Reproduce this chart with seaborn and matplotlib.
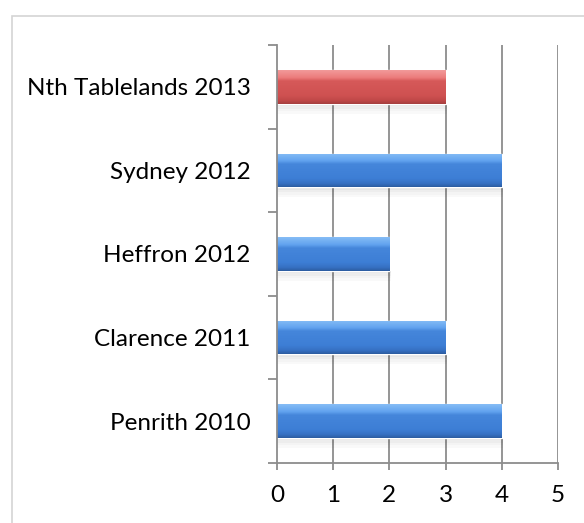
import numpy as np
import matplotlib
matplotlib.use("Agg")
import matplotlib.pyplot as plt
from matplotlib.patches import Rectangle
from matplotlib.colors import LinearSegmentedColormap
import seaborn as sns

# data, top to bottom as shown
categories = ["Nth Tablelands 2013", "Sydney 2012", "Heffron 2012", "Clarence 2011", "Penrith 2010"]
values = [3, 4, 2, 3, 4]
groups = ["red", "blue", "blue", "blue", "blue"]
x_ticks = [0, 1, 2, 3, 4, 5]

sns.set_theme(style="white")
plt.rcParams['font.family'] = ['Lato', 'DejaVu Sans']

fig = plt.figure(figsize=(5.84, 5.23), dpi=100)
ax = fig.add_axes([277 / 584, 60 / 523, 281 / 584, 418 / 523])

base = {"red": "#cf5252", "blue": "#3c7dd4"}
ramps = {
    "red": [(0.0, "#f29a9a"), (0.22, "#ec7c7c"), (0.32, "#d65959"),
            (0.75, "#cf5151"), (0.9, "#c04848"), (1.0, "#a53f3f")],
    "blue": [(0.0, "#86bdf6"), (0.22, "#62a3ef"), (0.32, "#4586db"),
             (0.75, "#3d7ed5"), (0.9, "#3670c2"), (1.0, "#2c5c9f")],
}

sns.barplot(x=values, y=categories, hue=groups, palette=base, orient="h",
            width=0.4, dodge=False, legend=False, ax=ax, saturation=1)

# cylinder-like shading on each bar
for patch, g in zip(ax.patches, groups):
    x0, y0 = patch.get_x(), patch.get_y()
    w, h = patch.get_width(), patch.get_height()
    if w == 0:
        continue
    # soft shadow below the bar
    for k, a in enumerate([0.10, 0.07, 0.045, 0.025]):
        ax.add_patch(Rectangle((x0, y0 + h + k * 0.03), w + 0.02, 0.03,
                               facecolor="black", alpha=a, lw=0, zorder=1.5))
    cmap = LinearSegmentedColormap.from_list("r", ramps[g])
    grad = np.linspace(0, 1, 128).reshape(-1, 1)
    im = ax.imshow(grad, cmap=cmap, aspect="auto", origin="upper",
                   extent=(x0, x0 + w, y0 + h, y0), zorder=2.2)
    im.set_clip_path(patch)
    patch.set_zorder(2)

ax.set_xlim(0, 5)
ax.set_ylim(4.5, -0.5)
ax.set_xticks(x_ticks)
ax.set_xticklabels([str(t) for t in x_ticks])
ax.set_xlabel("")
ax.set_ylabel("")

ax.set_yticks(range(len(categories)))
ax.set_yticklabels(categories)
ax.set_yticks(np.arange(-0.5, len(categories), 1), minor=True)

grid_col = "#8c8c8c"
for t in x_ticks[1:]:
    ax.axvline(t, color=grid_col, lw=1.3, zorder=0.5)

for side in ["top", "right"]:
    ax.spines[side].set_visible(False)
for side in ["left", "bottom"]:
    ax.spines[side].set_color(grid_col)
    ax.spines[side].set_linewidth(1.3)

ax.tick_params(axis="y", which="major", length=0, pad=19, labelsize=17.5, colors="black")
ax.tick_params(axis="y", which="minor", length=6.5, width=1.3, color=grid_col, direction="out", left=True)
ax.tick_params(axis="x", which="major", length=5, width=1.3, color=grid_col, direction="out",
               bottom=True, pad=11, labelsize=17.5, labelcolor="black")

# chart area border
fig.patches.append(Rectangle((12 / 584, -0.1), 1.2, 1 - 16 / 523 + 0.1,
                             transform=fig.transFigure, fill=False,
                             edgecolor="#d4d4d4", lw=1.2, zorder=0))

fig.savefig("out.png", dpi=100)
